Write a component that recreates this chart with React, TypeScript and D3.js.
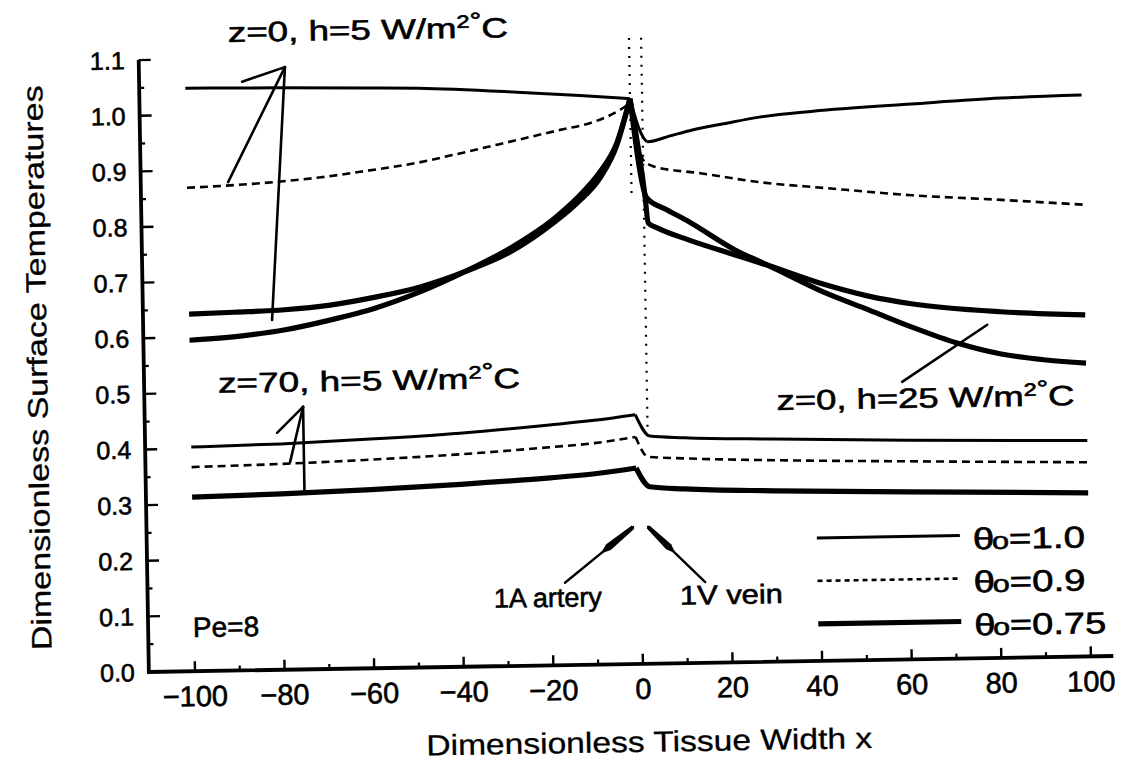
import React from "react";
import * as d3 from "d3";

type Pt = [number, number];

const W = 1131;
const H = 761;

const X_TICKS = [-100, -80, -60, -40, -20, 0, 20, 40, 60, 80, 100];
const X_TICK_LABELS = ["\u2212100", "\u221280", "\u221260", "\u221240", "\u221220", "0", "20", "40", "60", "80", "100"];
const X_MINOR_TICKS = [-90, -70, -50, -30, -10, 10, 30, 50, 70, 90];
const Y_TICKS = [0, 0.1, 0.2, 0.3, 0.4, 0.5, 0.6, 0.7, 0.8, 0.9, 1.0, 1.1];
const Y_TICK_LABELS = ["0.0", "0.1", "0.2", "0.3", "0.4", "0.5", "0.6", "0.7", "0.8", "0.9", "1.0", "1.1"];
const Y_MINOR_TICKS = [0.05, 0.15, 0.25, 0.35, 0.45, 0.55, 0.65, 0.75, 0.85, 0.95, 1.05];

// vessel positions (artery 1A, vein 1V)
const ARTERY_X = -0.8;
const VEIN_X = 1.9;

// z = 0, h = 5 W/m²°C
const Z0_H5_T100: Pt[] = [
  [-100, 1.048], [-80, 1.046], [-60, 1.043], [-48, 1.041], [-26, 1.031], [-12, 1.023], [-0.8, 1.016],
  [1.2, 0.96], [3, 0.938], [8, 0.948], [13, 0.958], [20, 0.968], [28, 0.979], [40, 0.988], [62, 0.998],
  [82, 1.006], [100, 1.009],
];
const Z0_H5_T090: Pt[] = [
  [-100, 0.869], [-80, 0.877], [-70, 0.884], [-60, 0.894], [-48.6, 0.907], [-40, 0.921], [-26.2, 0.945],
  [-16.5, 0.962], [-9.1, 0.975], [-3.1, 0.996], [-0.8, 1.008],
  [1.9, 0.906], [4.1, 0.894], [14.6, 0.88], [27.9, 0.862], [42, 0.85], [61.8, 0.834], [81.7, 0.823], [100, 0.812],
];
const Z0_H5_T075: Pt[] = [
  [-100, 0.642], [-90, 0.644], [-78.6, 0.647], [-68.5, 0.654], [-58.4, 0.667], [-48.3, 0.684], [-38.3, 0.71],
  [-28.1, 0.744], [-18, 0.797], [-13, 0.83], [-7.8, 0.874], [-3.9, 0.933], [-0.8, 1.016],
  [2.2, 0.84], [2.8, 0.792], [4.8, 0.783], [11.9, 0.76], [22.1, 0.732], [29.8, 0.711], [41.6, 0.677],
  [51.7, 0.654], [61.2, 0.639], [81.1, 0.622], [100, 0.614],
];

// z = 0, h = 25 W/m²°C
const Z0_H25: Pt[] = [
  [-100, 0.595], [-88.7, 0.601], [-78.6, 0.611], [-68.6, 0.627], [-58.5, 0.647], [-48.4, 0.675], [-38.3, 0.71],
  [-28.1, 0.751], [-18, 0.804], [-13, 0.839], [-7.8, 0.885], [-3.9, 0.937], [-0.8, 1.016],
  [2.6, 0.837], [7.1, 0.815], [11.9, 0.793], [22.1, 0.741], [29.8, 0.711], [41.6, 0.663], [51.8, 0.629],
  [61.3, 0.597], [71.3, 0.567], [81.1, 0.546], [91.1, 0.534], [100, 0.527],
];

// z = 70, h = 5 W/m²°C
const Z70_H5_T100: Pt[] = [
  [-100, 0.403], [-80, 0.406], [-60, 0.412], [-40, 0.42], [-20, 0.432], [-10, 0.439], [-0.8, 0.448],
  [2.4, 0.409], [10, 0.405], [30, 0.4], [60, 0.394], [100, 0.388],
];
const Z70_H5_T090: Pt[] = [
  [-100, 0.367], [-80, 0.37], [-60, 0.375], [-40, 0.382], [-20, 0.392], [-10, 0.398], [-0.8, 0.408],
  [1.9, 0.372], [10, 0.368], [30, 0.362], [60, 0.356], [100, 0.349],
];
const Z70_H5_T075: Pt[] = [
  [-100, 0.313], [-80, 0.316], [-60, 0.321], [-40, 0.328], [-20, 0.337], [-10, 0.343], [-0.8, 0.352],
  [2.2, 0.318], [10, 0.313], [30, 0.307], [60, 0.301], [100, 0.294],
];

type Style = "thin" | "dashed" | "thick";
const SERIES: { pts: Pt[]; style: Style }[] = [
  { pts: Z0_H5_T100, style: "thin" },
  { pts: Z0_H5_T090, style: "dashed" },
  { pts: Z0_H5_T075, style: "thick" },
  { pts: Z0_H25, style: "thick" },
  { pts: Z70_H5_T100, style: "thin" },
  { pts: Z70_H5_T090, style: "dashed" },
  { pts: Z70_H5_T075, style: "thick" },
];

const LEGEND: { label: string; style: Style; len: number }[] = [
  { label: "=1.0", style: "thin", len: 112 },
  { label: "=0.9", style: "dashed", len: 112 },
  { label: "=0.75", style: "thick", len: 132 },
];

// leader lines for the annotations, in data units
const TOP_ARROW = { tip: [-77.7, 1.083] as Pt, ends: [[-90.8, 0.878], [-81.5, 0.629]] as Pt[], barb: [-87.3, 1.058] as Pt };
const LOW_ARROW = { tip: [-74.9, 0.472] as Pt, ends: [[-74.9, 0.319], [-78, 0.373]] as Pt[], barb: [-80.8, 0.426] as Pt };
const H25_LEADER: Pt[] = [[58.9, 0.499], [78.1, 0.599]];
const ARTERY_ARROW: Pt[] = [[-17.1, 0.148], [-1.7, 0.246]];
const VEIN_ARROW: Pt[] = [[14.2, 0.145], [1.65, 0.246]];

const STROKE: Record<Style, { w: number; dash?: string }> = {
  thin: { w: 3 },
  dashed: { w: 2.6, dash: "8 5" },
  thick: { w: 5.2 },
};

const FONT = "'Liberation Sans', Arial, Helvetica, sans-serif";
const INK = { stroke: "#000", strokeWidth: 0.6 };

function Unit({ children }: { children?: React.ReactNode }) {
  return (
    <>
      {children}
      <tspan dy={-10} fontSize={18}>2</tspan>
      <tspan fontSize={22}>°</tspan>
      <tspan dy={10}>C</tspan>
    </>
  );
}

export default function App() {
  const x = d3.scaleLinear().domain([-100, 100]).range([195, 1091]);
  const y = d3.scaleLinear().domain([0, 1.1]).range([672, 60]);
  const axisX = x(-110.3);
  const axisY = y(0);
  const axisEnd = x(105);

  const line = d3
    .line<Pt>()
    .x((d) => x(d[0]))
    .y((d) => y(d[1]))
    .curve(d3.curveMonotoneX);

  const curvePath = (pts: Pt[]) => {
    const left = pts.filter((p) => p[0] <= ARTERY_X);
    const right = pts.filter((p) => p[0] >= ARTERY_X);
    return (line(left) || "") + (line(right) || "");
  };

  const seg = (a: Pt, b: Pt) => `M${x(a[0])},${y(a[1])}L${x(b[0])},${y(b[1])}`;

  const headedArrow = (tail: Pt, tip: Pt) => {
    const x1 = x(tail[0]), y1 = y(tail[1]);
    const x2 = x(tip[0]), y2 = y(tip[1]);
    const dx = x2 - x1, dy = y2 - y1;
    const len = Math.hypot(dx, dy);
    const nx = -dy / len, ny = dx / len;
    const p = (t: number, o: number) => `${x1 + dx * t + nx * o},${y1 + dy * t + ny * o}`;
    return {
      shaft: `M${x1},${y1}L${x2},${y2}`,
      head: `M${p(0.52, 0)}L${p(0.64, 3.6)}L${p(1, 2)}L${p(1, -2)}L${p(0.64, -3.6)}Z`,
    };
  };
  const artery = headedArrow(ARTERY_ARROW[0], ARTERY_ARROW[1]);
  const vein = headedArrow(VEIN_ARROW[0], VEIN_ARROW[1]);

  const legendX1 = 819;
  const legendX2 = 962;
  const legendY = [549, 592, 635];

  return (
    <svg
      width={W}
      height={H}
      viewBox={`0 0 ${W} ${H}`}
      style={{ position: "absolute", left: 0, top: 0, background: "#fff" }}
      fontFamily={FONT}
    >
      <rect width={W} height={H} fill="#fff" />
      <g transform={`rotate(-0.95 ${axisX} ${axisY})`} fill="#000" stroke="none">
        {/* vessel markers */}
        <line x1={x(ARTERY_X)} x2={x(ARTERY_X)} y1={y(1.125)} y2={y(0.834)} stroke="#000" strokeWidth={2.2} strokeDasharray="2 7" />
        <line x1={x(VEIN_X)} x2={x(VEIN_X)} y1={y(1.125)} y2={y(0.42)} stroke="#000" strokeWidth={2.2} strokeDasharray="2 7" />

        {/* curves */}
        {SERIES.map((s, i) => (
          <path
            key={i}
            d={curvePath(s.pts)}
            fill="none"
            stroke="#000"
            strokeWidth={STROKE[s.style].w}
            strokeDasharray={STROKE[s.style].dash}
            strokeLinejoin="round"
          />
        ))}

        {/* axes */}
        <path d={`M${axisX},${y(1.1)}L${axisX},${axisY}L${axisEnd},${axisY}`} fill="none" stroke="#000" strokeWidth={3.8} />
        {X_TICKS.map((t) => (
          <line key={`xt${t}`} x1={x(t)} x2={x(t)} y1={axisY} y2={axisY - 10} stroke="#000" strokeWidth={2.4} />
        ))}
        {X_MINOR_TICKS.map((t) => (
          <line key={`xm${t}`} x1={x(t)} x2={x(t)} y1={axisY} y2={axisY - 5} stroke="#000" strokeWidth={2.2} />
        ))}
        {Y_TICKS.map((t) => (
          <line key={`yt${t}`} x1={axisX} x2={axisX + 12} y1={y(t)} y2={y(t)} stroke="#000" strokeWidth={2.4} />
        ))}
        {Y_MINOR_TICKS.map((t) => (
          <line key={`ym${t}`} x1={axisX} x2={axisX + 5} y1={y(t)} y2={y(t)} stroke="#000" strokeWidth={2.2} />
        ))}
        <g {...INK}>
          {X_TICKS.map((t, i) => (
            <text key={`xl${t}`} x={x(t)} y={axisY + 35} fontSize={29} textAnchor="middle">
              {X_TICK_LABELS[i]}
            </text>
          ))}
          {Y_TICKS.map((t, i) => (
            <text key={`yl${t}`} x={axisX - 14} y={y(t) + 9} fontSize={25} textAnchor="end">
              {Y_TICK_LABELS[i]}
            </text>
          ))}

          {/* axis titles */}
          <text
            transform={`translate(52,366) rotate(-90)`}
            fontSize={28}
            textAnchor="middle"
            textLength={565}
            lengthAdjust="spacingAndGlyphs"
            strokeWidth={0.3}
          >
            Dimensionless Surface Temperatures
          </text>
          <text x={648} y={760} fontSize={29} textAnchor="middle" textLength={446} lengthAdjust="spacingAndGlyphs" strokeWidth={0.3}>
            Dimensionless Tissue Width  x
          </text>

          {/* annotations */}
          <text x={x(-90.3)} y={y(1.13)} fontSize={28} textLength={280} lengthAdjust="spacingAndGlyphs">
            <Unit>z=0, h=5 W/m</Unit>
          </text>
          <text x={x(-93.8)} y={y(0.4996)} fontSize={28} textLength={302} lengthAdjust="spacingAndGlyphs">
            <Unit>z=70, h=5 W/m</Unit>
          </text>
          <text x={x(30.8)} y={y(0.452)} fontSize={28} textLength={298} lengthAdjust="spacingAndGlyphs">
            <Unit>z=0, h=25 W/m</Unit>
          </text>
          <text x={x(-100.3)} y={y(0.0616)} fontSize={28}>Pe=8</text>
          <text x={x(-8.9)} y={y(0.105)} fontSize={27} textAnchor="end">1A artery</text>
          <text x={x(8.5)} y={y(0.105)} fontSize={27} textLength={103} lengthAdjust="spacingAndGlyphs">1V vein</text>
        </g>

        <g stroke="#000" strokeWidth={2.6} fill="none" strokeLinecap="round">
          {TOP_ARROW.ends.map((e, i) => (
            <path key={`ta${i}`} d={seg(e, TOP_ARROW.tip)} />
          ))}
          <path d={seg(TOP_ARROW.barb, TOP_ARROW.tip)} />
          {LOW_ARROW.ends.map((e, i) => (
            <path key={`la${i}`} d={seg(e, LOW_ARROW.tip)} />
          ))}
          <path d={seg(LOW_ARROW.barb, LOW_ARROW.tip)} />
          <path d={seg(H25_LEADER[0], H25_LEADER[1])} />
          <path d={artery.shaft} strokeWidth={2.4} />
          <path d={vein.shaft} strokeWidth={2.4} />
        </g>
        <path d={artery.head} fill="#000" />
        <path d={vein.head} fill="#000" />

        {/* legend */}
        {LEGEND.map((l, i) => (
          <g key={`lg${i}`}>
            <line
              x1={legendX1}
              x2={legendX2}
              y1={legendY[i]}
              y2={legendY[i]}
              stroke="#000"
              strokeWidth={STROKE[l.style].w}
              strokeDasharray={l.style === "dashed" ? "5 4" : undefined}
            />
            <text x={975} y={legendY[i] + 14} fontSize={30} textLength={l.len} lengthAdjust="spacingAndGlyphs" {...INK}>
              θ<tspan fontSize={24} dx={-2}>o</tspan>
              {l.label}
            </text>
          </g>
        ))}
      </g>
    </svg>
  );
}
